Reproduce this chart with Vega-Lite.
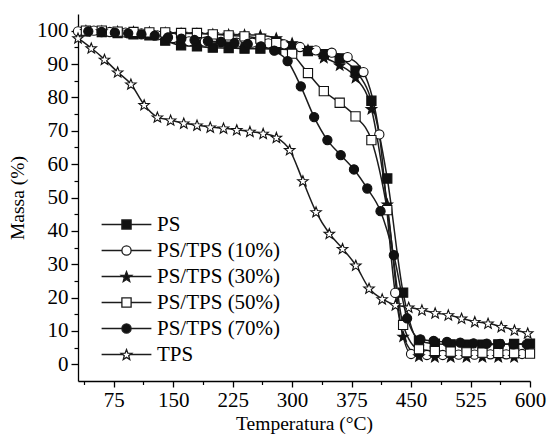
{
  "$schema": "https://vega.github.io/schema/vega-lite/v6.json",
  "autosize": {"type": "none"},
  "padding": {"left": 78, "top": 14, "right": 19, "bottom": 61},
  "width": 452,
  "height": 367,
  "config": {"view": {"stroke": null}, "font": "Liberation Serif, Times New Roman, DejaVu Serif, serif"},
  "datasets": {
    "tga": [
      {"s": "PS", "t": 40, "m": 99.8}, {"s": "PS", "t": 60, "m": 99.6}, {"s": "PS", "t": 80, "m": 99.3},
      {"s": "PS", "t": 100, "m": 98.9}, {"s": "PS", "t": 120, "m": 98.6}, {"s": "PS", "t": 140, "m": 97.0},
      {"s": "PS", "t": 160, "m": 95.6}, {"s": "PS", "t": 180, "m": 95.3}, {"s": "PS", "t": 200, "m": 94.9},
      {"s": "PS", "t": 220, "m": 94.8}, {"s": "PS", "t": 240, "m": 94.6}, {"s": "PS", "t": 260, "m": 94.6},
      {"s": "PS", "t": 280, "m": 94.5}, {"s": "PS", "t": 300, "m": 94.3}, {"s": "PS", "t": 320, "m": 93.9},
      {"s": "PS", "t": 340, "m": 93.0}, {"s": "PS", "t": 360, "m": 91.7}, {"s": "PS", "t": 380, "m": 88.0},
      {"s": "PS", "t": 400, "m": 79.0}, {"s": "PS", "t": 420, "m": 55.7}, {"s": "PS", "t": 440, "m": 21.5},
      {"s": "PS", "t": 460, "m": 7.0}, {"s": "PS", "t": 480, "m": 6.2}, {"s": "PS", "t": 500, "m": 6.0},
      {"s": "PS", "t": 520, "m": 5.9}, {"s": "PS", "t": 540, "m": 5.9}, {"s": "PS", "t": 560, "m": 6.0},
      {"s": "PS", "t": 580, "m": 6.1}, {"s": "PS", "t": 600, "m": 6.2},

      {"s": "PS/TPS (10%)", "t": 30, "m": 99.8}, {"s": "PS/TPS (10%)", "t": 50, "m": 100.0}, {"s": "PS/TPS (10%)", "t": 70, "m": 99.6},
      {"s": "PS/TPS (10%)", "t": 90, "m": 99.4}, {"s": "PS/TPS (10%)", "t": 110, "m": 99.2}, {"s": "PS/TPS (10%)", "t": 130, "m": 98.6},
      {"s": "PS/TPS (10%)", "t": 150, "m": 97.8}, {"s": "PS/TPS (10%)", "t": 170, "m": 96.8}, {"s": "PS/TPS (10%)", "t": 190, "m": 96.7},
      {"s": "PS/TPS (10%)", "t": 210, "m": 96.6}, {"s": "PS/TPS (10%)", "t": 230, "m": 96.4}, {"s": "PS/TPS (10%)", "t": 250, "m": 96.4},
      {"s": "PS/TPS (10%)", "t": 270, "m": 96.2}, {"s": "PS/TPS (10%)", "t": 290, "m": 95.9}, {"s": "PS/TPS (10%)", "t": 310, "m": 95.1},
      {"s": "PS/TPS (10%)", "t": 330, "m": 94.1}, {"s": "PS/TPS (10%)", "t": 350, "m": 93.4}, {"s": "PS/TPS (10%)", "t": 370, "m": 92.1},
      {"s": "PS/TPS (10%)", "t": 390, "m": 87.6}, {"s": "PS/TPS (10%)", "t": 410, "m": 68.9}, {"s": "PS/TPS (10%)", "t": 430, "m": 21.4},
      {"s": "PS/TPS (10%)", "t": 450, "m": 3.1}, {"s": "PS/TPS (10%)", "t": 470, "m": 2.8}, {"s": "PS/TPS (10%)", "t": 490, "m": 2.8},
      {"s": "PS/TPS (10%)", "t": 510, "m": 2.9}, {"s": "PS/TPS (10%)", "t": 530, "m": 2.9}, {"s": "PS/TPS (10%)", "t": 550, "m": 3.0},
      {"s": "PS/TPS (10%)", "t": 570, "m": 3.0}, {"s": "PS/TPS (10%)", "t": 590, "m": 3.1},

      {"s": "PS/TPS (30%)", "t": 40, "m": 100.0}, {"s": "PS/TPS (30%)", "t": 60, "m": 99.9}, {"s": "PS/TPS (30%)", "t": 80, "m": 99.8},
      {"s": "PS/TPS (30%)", "t": 100, "m": 99.7}, {"s": "PS/TPS (30%)", "t": 120, "m": 99.6}, {"s": "PS/TPS (30%)", "t": 140, "m": 99.4},
      {"s": "PS/TPS (30%)", "t": 160, "m": 99.2}, {"s": "PS/TPS (30%)", "t": 180, "m": 99.1}, {"s": "PS/TPS (30%)", "t": 200, "m": 99.0},
      {"s": "PS/TPS (30%)", "t": 220, "m": 98.9}, {"s": "PS/TPS (30%)", "t": 240, "m": 98.8}, {"s": "PS/TPS (30%)", "t": 260, "m": 98.6},
      {"s": "PS/TPS (30%)", "t": 280, "m": 97.8}, {"s": "PS/TPS (30%)", "t": 300, "m": 96.3}, {"s": "PS/TPS (30%)", "t": 320, "m": 94.3},
      {"s": "PS/TPS (30%)", "t": 340, "m": 92.0}, {"s": "PS/TPS (30%)", "t": 360, "m": 89.7}, {"s": "PS/TPS (30%)", "t": 380, "m": 86.0},
      {"s": "PS/TPS (30%)", "t": 400, "m": 76.6}, {"s": "PS/TPS (30%)", "t": 420, "m": 48.0}, {"s": "PS/TPS (30%)", "t": 440, "m": 8.4},
      {"s": "PS/TPS (30%)", "t": 460, "m": 2.5}, {"s": "PS/TPS (30%)", "t": 480, "m": 2.3}, {"s": "PS/TPS (30%)", "t": 500, "m": 2.3},
      {"s": "PS/TPS (30%)", "t": 520, "m": 2.3}, {"s": "PS/TPS (30%)", "t": 540, "m": 2.3}, {"s": "PS/TPS (30%)", "t": 560, "m": 2.3},
      {"s": "PS/TPS (30%)", "t": 580, "m": 2.3},

      {"s": "PS/TPS (50%)", "t": 40, "m": 100.0}, {"s": "PS/TPS (50%)", "t": 60, "m": 100.0}, {"s": "PS/TPS (50%)", "t": 80, "m": 99.7},
      {"s": "PS/TPS (50%)", "t": 100, "m": 99.6}, {"s": "PS/TPS (50%)", "t": 120, "m": 99.5}, {"s": "PS/TPS (50%)", "t": 140, "m": 99.5},
      {"s": "PS/TPS (50%)", "t": 160, "m": 99.3}, {"s": "PS/TPS (50%)", "t": 180, "m": 99.3}, {"s": "PS/TPS (50%)", "t": 200, "m": 98.9},
      {"s": "PS/TPS (50%)", "t": 220, "m": 98.6}, {"s": "PS/TPS (50%)", "t": 240, "m": 98.3}, {"s": "PS/TPS (50%)", "t": 260, "m": 97.6},
      {"s": "PS/TPS (50%)", "t": 280, "m": 96.3}, {"s": "PS/TPS (50%)", "t": 300, "m": 93.1}, {"s": "PS/TPS (50%)", "t": 320, "m": 87.3},
      {"s": "PS/TPS (50%)", "t": 340, "m": 81.9}, {"s": "PS/TPS (50%)", "t": 360, "m": 78.4}, {"s": "PS/TPS (50%)", "t": 380, "m": 74.3},
      {"s": "PS/TPS (50%)", "t": 400, "m": 67.2}, {"s": "PS/TPS (50%)", "t": 420, "m": 46.2}, {"s": "PS/TPS (50%)", "t": 440, "m": 11.8},
      {"s": "PS/TPS (50%)", "t": 460, "m": 4.5}, {"s": "PS/TPS (50%)", "t": 480, "m": 4.0}, {"s": "PS/TPS (50%)", "t": 500, "m": 3.8},
      {"s": "PS/TPS (50%)", "t": 520, "m": 3.6}, {"s": "PS/TPS (50%)", "t": 540, "m": 3.5}, {"s": "PS/TPS (50%)", "t": 560, "m": 3.4},
      {"s": "PS/TPS (50%)", "t": 580, "m": 3.3}, {"s": "PS/TPS (50%)", "t": 600, "m": 3.2},

      {"s": "PS/TPS (70%)", "t": 43, "m": 99.8}, {"s": "PS/TPS (70%)", "t": 59.8, "m": 99.6}, {"s": "PS/TPS (70%)", "t": 76.5, "m": 99.4},
      {"s": "PS/TPS (70%)", "t": 93.3, "m": 99.2}, {"s": "PS/TPS (70%)", "t": 110, "m": 98.9}, {"s": "PS/TPS (70%)", "t": 126.8, "m": 98.5},
      {"s": "PS/TPS (70%)", "t": 143.5, "m": 98.0}, {"s": "PS/TPS (70%)", "t": 160.3, "m": 97.6}, {"s": "PS/TPS (70%)", "t": 177, "m": 97.2},
      {"s": "PS/TPS (70%)", "t": 193.8, "m": 96.9}, {"s": "PS/TPS (70%)", "t": 210.5, "m": 96.6}, {"s": "PS/TPS (70%)", "t": 227.3, "m": 96.3},
      {"s": "PS/TPS (70%)", "t": 244, "m": 96.0}, {"s": "PS/TPS (70%)", "t": 260.8, "m": 95.3}, {"s": "PS/TPS (70%)", "t": 277.5, "m": 94.0},
      {"s": "PS/TPS (70%)", "t": 294.3, "m": 90.9}, {"s": "PS/TPS (70%)", "t": 311, "m": 83.3}, {"s": "PS/TPS (70%)", "t": 327.8, "m": 74.1},
      {"s": "PS/TPS (70%)", "t": 344.5, "m": 67.2}, {"s": "PS/TPS (70%)", "t": 361.3, "m": 62.7}, {"s": "PS/TPS (70%)", "t": 378, "m": 58.4},
      {"s": "PS/TPS (70%)", "t": 394.8, "m": 52.7}, {"s": "PS/TPS (70%)", "t": 411.5, "m": 45.9}, {"s": "PS/TPS (70%)", "t": 428.3, "m": 32.7},
      {"s": "PS/TPS (70%)", "t": 445, "m": 13.8}, {"s": "PS/TPS (70%)", "t": 461.8, "m": 7.5}, {"s": "PS/TPS (70%)", "t": 478.5, "m": 7.0},
      {"s": "PS/TPS (70%)", "t": 495.3, "m": 6.7}, {"s": "PS/TPS (70%)", "t": 512, "m": 6.5}, {"s": "PS/TPS (70%)", "t": 528.8, "m": 6.3},
      {"s": "PS/TPS (70%)", "t": 545.5, "m": 6.2}, {"s": "PS/TPS (70%)", "t": 562.3, "m": 6.1}, {"s": "PS/TPS (70%)", "t": 579, "m": 6.0},
      {"s": "PS/TPS (70%)", "t": 595.8, "m": 6.0},

      {"s": "TPS", "t": 30, "m": 97.8}, {"s": "TPS", "t": 46.7, "m": 94.8}, {"s": "TPS", "t": 63.4, "m": 91.4},
      {"s": "TPS", "t": 80, "m": 87.6}, {"s": "TPS", "t": 96.7, "m": 84.0}, {"s": "TPS", "t": 113.4, "m": 77.8},
      {"s": "TPS", "t": 130.1, "m": 74.1}, {"s": "TPS", "t": 146.8, "m": 73.2}, {"s": "TPS", "t": 163.4, "m": 72.3},
      {"s": "TPS", "t": 180.1, "m": 71.7}, {"s": "TPS", "t": 196.8, "m": 71.1}, {"s": "TPS", "t": 213.5, "m": 70.8},
      {"s": "TPS", "t": 230.2, "m": 70.3}, {"s": "TPS", "t": 246.8, "m": 69.8}, {"s": "TPS", "t": 263.5, "m": 69.2},
      {"s": "TPS", "t": 280.2, "m": 68.0}, {"s": "TPS", "t": 296.9, "m": 64.3}, {"s": "TPS", "t": 313.6, "m": 55.0},
      {"s": "TPS", "t": 330.2, "m": 45.7}, {"s": "TPS", "t": 346.9, "m": 39.2}, {"s": "TPS", "t": 363.6, "m": 34.7},
      {"s": "TPS", "t": 380.3, "m": 29.7}, {"s": "TPS", "t": 397, "m": 22.8}, {"s": "TPS", "t": 413.6, "m": 19.6},
      {"s": "TPS", "t": 430.3, "m": 17.8}, {"s": "TPS", "t": 447, "m": 17.1}, {"s": "TPS", "t": 463.7, "m": 16.3},
      {"s": "TPS", "t": 480.4, "m": 15.4}, {"s": "TPS", "t": 497, "m": 14.8}, {"s": "TPS", "t": 513.7, "m": 13.8},
      {"s": "TPS", "t": 530.4, "m": 12.8}, {"s": "TPS", "t": 547.1, "m": 12.3}, {"s": "TPS", "t": 563.8, "m": 11.3},
      {"s": "TPS", "t": 580.4, "m": 10.3}, {"s": "TPS", "t": 597.1, "m": 9.4}
    ]
  },
  "data": {"name": "tga"},
  "layer": [
    {
      "mark": {"type": "line", "interpolate": "monotone", "stroke": "#1c1c1c", "strokeWidth": 1.5},
      "encoding": {
        "detail": {"field": "s", "type": "nominal"},
        "x": {
          "field": "t", "type": "quantitative",
          "scale": {"domain": [30, 600], "nice": false, "zero": false},
          "axis": {
            "orient": "bottom", "values": [75, 150, 225, 300, 375, 450, 525, 600],
            "title": "Temperatura (°C)", "titleFont": "Liberation Serif, Times New Roman, DejaVu Serif, serif", "titleFontSize": 19.5, "titleFontWeight": "normal",
            "titleColor": "#000", "titlePadding": 4,
            "labelFont": "Liberation Serif, Times New Roman, DejaVu Serif, serif", "labelFontSize": 21, "labelColor": "#000", "labelPadding": 2,
            "labelFlush": false, "labelOverlap": false,
            "tickSize": 6, "tickColor": "#000", "tickWidth": 1.3,
            "domainColor": "#000", "domainWidth": 1.3, "grid": false
          }
        },
        "y": {
          "field": "m", "type": "quantitative",
          "scale": {"domain": [-5, 105], "nice": false, "zero": false},
          "axis": {
            "orient": "left", "values": [0, 10, 20, 30, 40, 50, 60, 70, 80, 90, 100],
            "title": "Massa (%)", "titleFont": "Liberation Serif, Times New Roman, DejaVu Serif, serif", "titleFontSize": 19.5, "titleFontWeight": "normal",
            "titleColor": "#000", "titlePadding": 9,
            "labelFont": "Liberation Serif, Times New Roman, DejaVu Serif, serif", "labelFontSize": 21, "labelColor": "#000", "labelPadding": 3,
            "labelFlush": false, "labelOverlap": false,
            "tickSize": 7, "tickColor": "#000", "tickWidth": 1.3,
            "domainColor": "#000", "domainWidth": 1.3, "grid": false
          }
        }
      }
    },
    {
      "mark": {"type": "point", "filled": true, "opacity": 1, "size": 85, "stroke": "#111", "strokeWidth": 1.1},
      "encoding": {
        "x": {
          "field": "t", "type": "quantitative",
          "axis": {
            "orient": "bottom", "title": null, "labels": false, "domain": false, "grid": false,
            "values": [37.5, 112.5, 187.5, 262.5, 337.5, 412.5, 487.5, 562.5],
            "tickSize": 3.5, "tickColor": "#000", "tickWidth": 1.2
          }
        },
        "y": {
          "field": "m", "type": "quantitative",
          "axis": {
            "orient": "left", "title": null, "labels": false, "domain": false, "grid": false,
            "values": [5, 15, 25, 35, 45, 55, 65, 75, 85, 95],
            "tickSize": 4, "tickColor": "#000", "tickWidth": 1.2
          }
        },
        "shape": {
          "field": "s", "type": "nominal", "legend": null,
          "scale": {
            "domain": ["PS", "PS/TPS (10%)", "PS/TPS (30%)", "PS/TPS (50%)", "PS/TPS (70%)", "TPS"],
            "range": [
              "M-1,-1H1V1H-1Z",
              "M1,0C1,0.552,0.552,1,0,1C-0.552,1,-1,0.552,-1,0C-1,-0.552,-0.552,-1,0,-1C0.552,-1,1,-0.552,1,0Z",
              "M0,-1.085L0.296,-0.293L1.141,-0.256L0.479,0.271L0.706,1.086L0,0.619L-0.706,1.086L-0.479,0.271L-1.141,-0.256L-0.296,-0.293Z",
              "M-1,-1H1V1H-1Z",
              "M1,0C1,0.552,0.552,1,0,1C-0.552,1,-1,0.552,-1,0C-1,-0.552,-0.552,-1,0,-1C0.552,-1,1,-0.552,1,0Z",
              "M0,-1.085L0.296,-0.293L1.141,-0.256L0.479,0.271L0.706,1.086L0,0.619L-0.706,1.086L-0.479,0.271L-1.141,-0.256L-0.296,-0.293Z"
            ]
          }
        },
        "fill": {
          "field": "s", "type": "nominal", "legend": null,
          "scale": {
            "domain": ["PS", "PS/TPS (10%)", "PS/TPS (30%)", "PS/TPS (50%)", "PS/TPS (70%)", "TPS"],
            "range": ["#111", "#fff", "#111", "#fff", "#111", "#fff"]
          }
        }
      }
    },
    {
      "transform": [{"filter": "datum.t < 0"}],
      "mark": {"type": "point", "filled": true, "opacity": 1, "size": 85, "strokeWidth": 1.3},
      "encoding": {
        "shape": {
          "field": "s", "type": "nominal",
          "scale": {
            "domain": ["PS", "PS/TPS (10%)", "PS/TPS (30%)", "PS/TPS (50%)", "PS/TPS (70%)", "TPS"],
            "range": [
              "M-5.4,0H-1M1,0H5.4M-1,-1H1V1H-1Z",
              "M-5.4,0H-1M1,0H5.4M1,0C1,0.552,0.552,1,0,1C-0.552,1,-1,0.552,-1,0C-1,-0.552,-0.552,-1,0,-1C0.552,-1,1,-0.552,1,0Z",
              "M-5.4,0H-0.82M0.82,0H5.4M0,-1.085L0.296,-0.293L1.141,-0.256L0.479,0.271L0.706,1.086L0,0.619L-0.706,1.086L-0.479,0.271L-1.141,-0.256L-0.296,-0.293Z",
              "M-5.4,0H-1M1,0H5.4M-1,-1H1V1H-1Z",
              "M-5.4,0H-1M1,0H5.4M1,0C1,0.552,0.552,1,0,1C-0.552,1,-1,0.552,-1,0C-1,-0.552,-0.552,-1,0,-1C0.552,-1,1,-0.552,1,0Z",
              "M-5.4,0H-0.82M0.82,0H5.4M0,-1.085L0.296,-0.293L1.141,-0.256L0.479,0.271L0.706,1.086L0,0.619L-0.706,1.086L-0.479,0.271L-1.141,-0.256L-0.296,-0.293Z"
            ]
          },
          "legend": {
            "title": null, "orient": "none", "legendX": 38, "legendY": 200, "padding": 0,
            "symbolSize": 85, "symbolStrokeWidth": 1.3, "symbolOpacity": 1,
            "labelFont": "Liberation Serif, Times New Roman, DejaVu Serif, serif", "labelFontSize": 21, "labelColor": "#000", "labelOffset": 20,
            "rowPadding": 4, "labelLimit": 300
          }
        },
        "fill": {
          "field": "s", "type": "nominal",
          "scale": {
            "domain": ["PS", "PS/TPS (10%)", "PS/TPS (30%)", "PS/TPS (50%)", "PS/TPS (70%)", "TPS"],
            "range": ["#111", "#fff", "#111", "#fff", "#111", "#fff"]
          },
          "legend": {
            "title": null, "orient": "none", "legendX": 38, "legendY": 200, "padding": 0,
            "symbolSize": 85, "symbolStrokeWidth": 1.3, "symbolOpacity": 1,
            "labelFont": "Liberation Serif, Times New Roman, DejaVu Serif, serif", "labelFontSize": 21, "labelColor": "#000", "labelOffset": 20,
            "rowPadding": 4, "labelLimit": 300
          }
        },
        "stroke": {
          "field": "s", "type": "nominal",
          "scale": {
            "domain": ["PS", "PS/TPS (10%)", "PS/TPS (30%)", "PS/TPS (50%)", "PS/TPS (70%)", "TPS"],
            "range": ["#1c1c1c", "#1c1c1c", "#1c1c1c", "#1c1c1c", "#1c1c1c", "#1c1c1c"]
          },
          "legend": {
            "title": null, "orient": "none", "legendX": 38, "legendY": 200, "padding": 0,
            "symbolSize": 85, "symbolStrokeWidth": 1.3, "symbolOpacity": 1,
            "labelFont": "Liberation Serif, Times New Roman, DejaVu Serif, serif", "labelFontSize": 21, "labelColor": "#000", "labelOffset": 20,
            "rowPadding": 4, "labelLimit": 300
          }
        }
      }
    }
  ],
  "resolve": {
    "axis": {"x": "independent", "y": "independent"},
    "scale": {"shape": "independent", "fill": "independent", "stroke": "independent"}
  }
}
